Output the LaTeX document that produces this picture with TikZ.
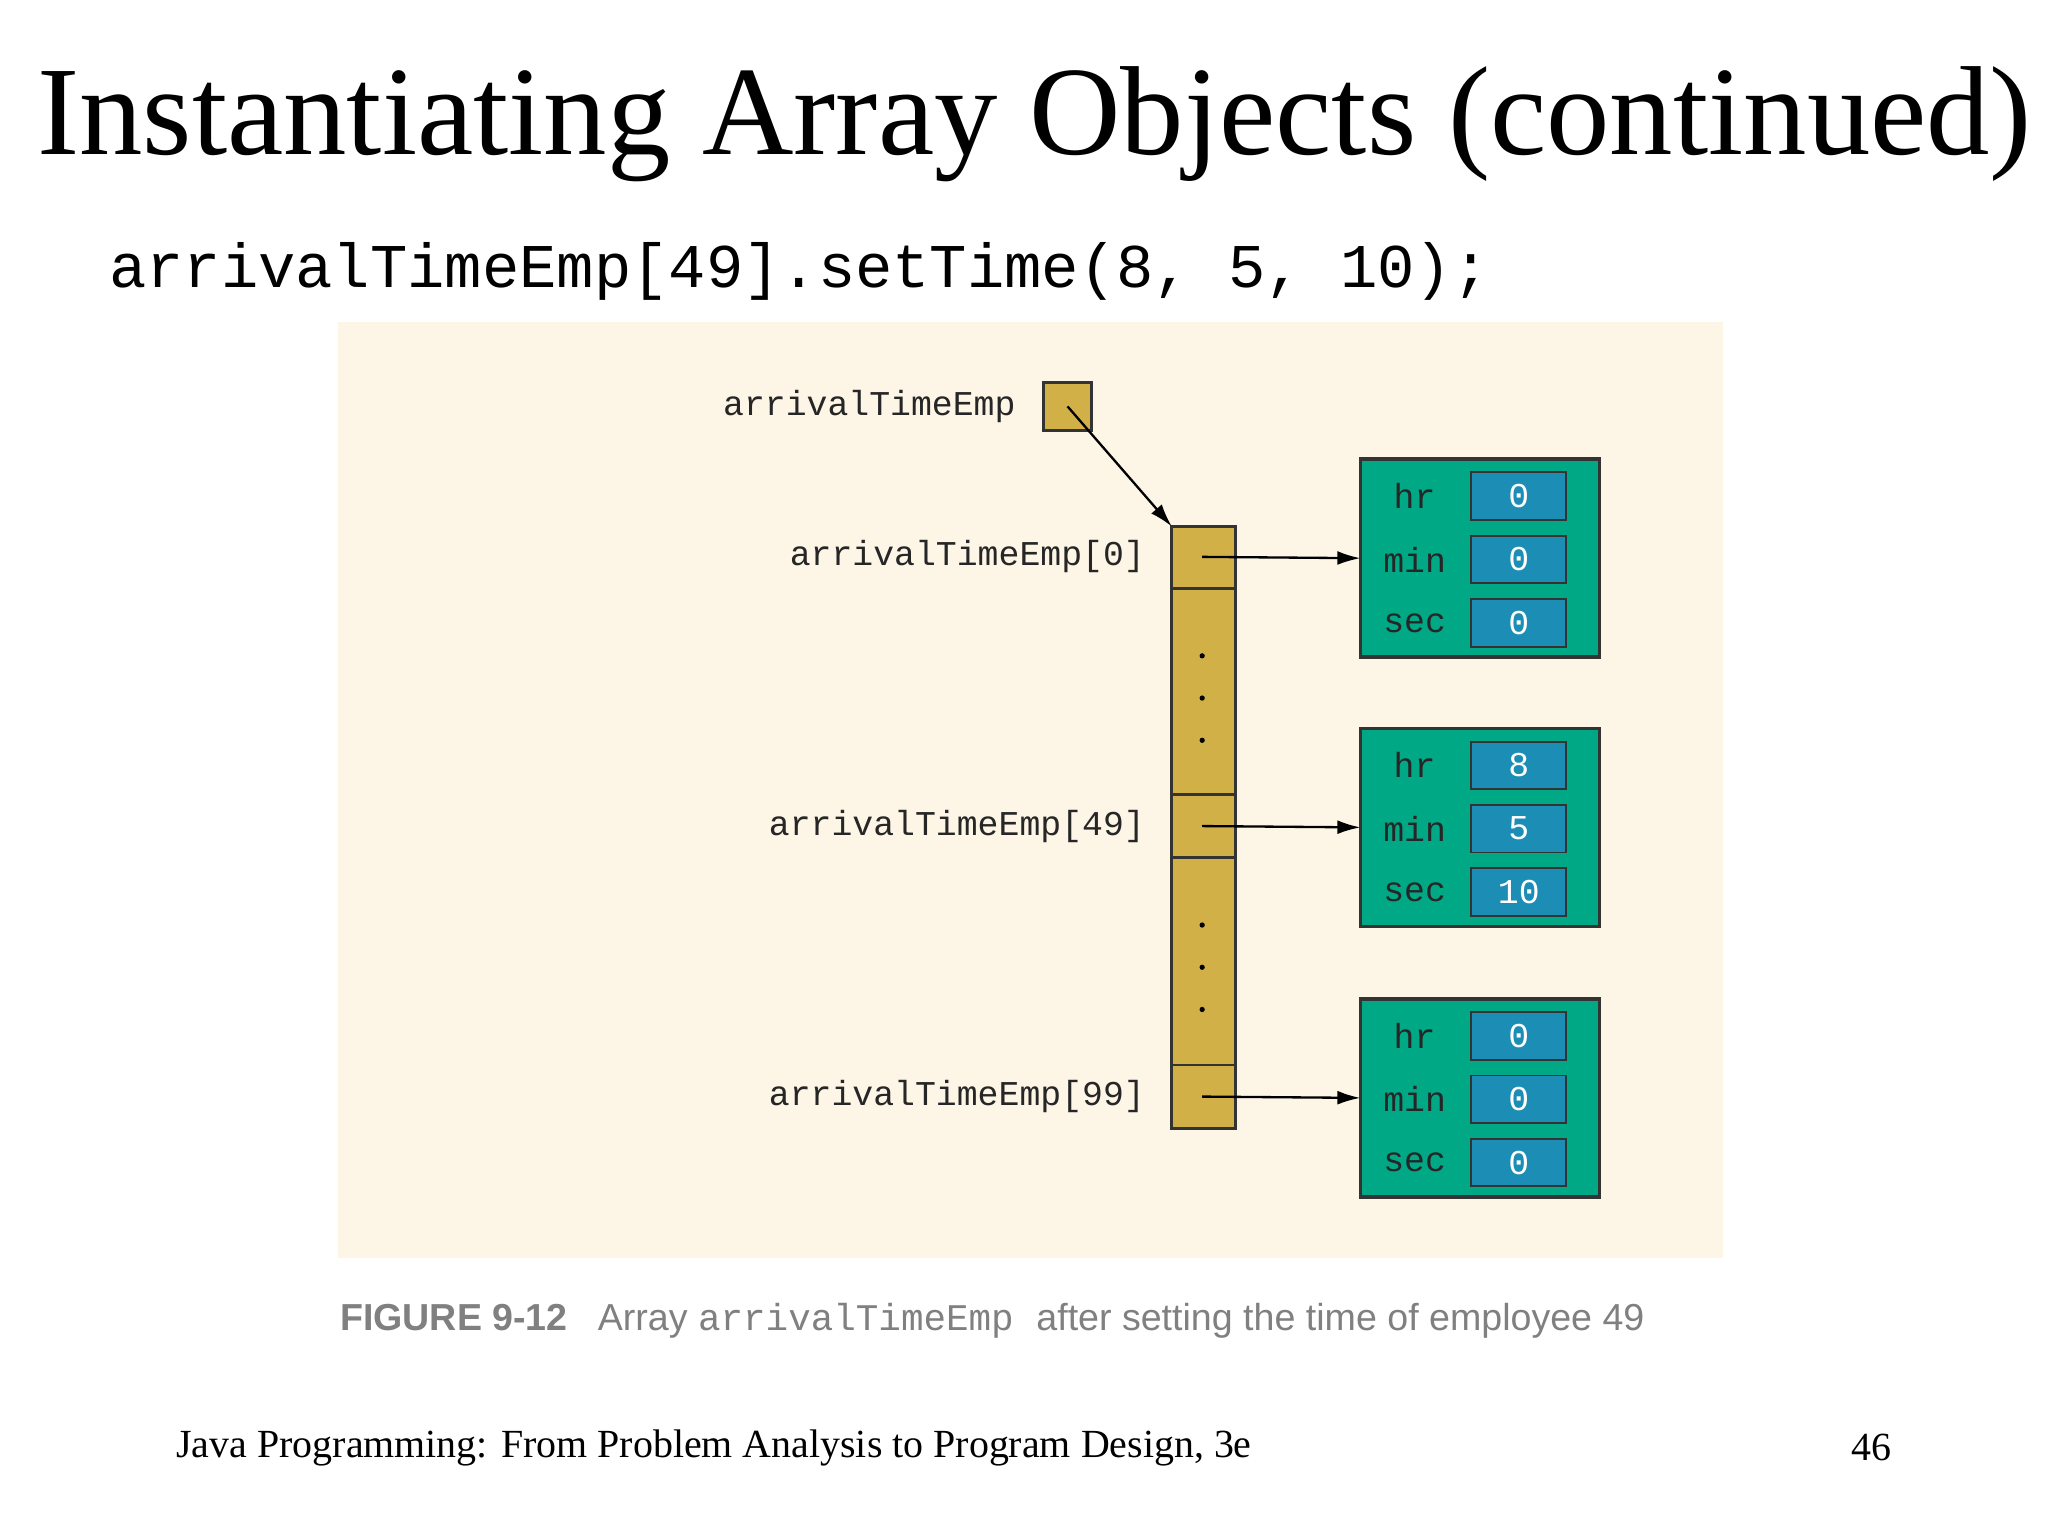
\documentclass[tikz,border=0pt]{standalone}
\usepackage{fontspec}
\setmainfont{Liberation Serif}
\setmonofont{Liberation Mono}
\setsansfont{Liberation Sans}
\usetikzlibrary{arrows.meta}
\definecolor{bg}{HTML}{FDF5E6}
\definecolor{gold}{HTML}{D2B048}
\definecolor{teal}{HTML}{00A886}
\definecolor{blu}{HTML}{1C8EB6}
\definecolor{cap}{HTML}{808080}
\tikzset{
 cell/.style={draw=black!80,fill=gold,line width=0.6pt},
 obj/.style={draw=black!80,fill=teal,line width=0.8pt},
 val/.style={draw=black!80,fill=blu,minimum width=0.72cm,minimum height=0.36cm,inner sep=0pt,font=\ttfamily\fontsize{7.5}{8}\selectfont,text=white},
 fld/.style={font=\ttfamily\fontsize{7.5}{8}\selectfont,text=black!85},
 lab/.style={font=\ttfamily\fontsize{7.5}{8}\selectfont,text=black!85,anchor=east},
 arr/.style={-{Latex[length=5pt,width=3pt]},line width=0.5pt}
}
\begin{document}
\begin{tikzpicture}[x=0.01cm,y=-0.01cm]
\useasboundingbox (0,0) rectangle (1552,1164);
\node[anchor=center,font=\fontsize{27.3}{30}\selectfont] (title) at (784,94) {Instantiating Array Objects (continued)};
\node[anchor=west,inner sep=0pt,font=\ttfamily\fontsize{13.4}{15}\selectfont] (code) at (82,206) {arrivalTimeEmp[49].setTime(8, 5, 10);};
\fill[bg] (256,244) rectangle (1306,953);
% pointer
\node[cell,minimum size=0.36cm,inner sep=0pt] (p) at (809,308) {};
\node[lab] (pl) at (782,308) {arrivalTimeEmp};
% array
\draw[cell] (888,399) rectangle (936,855);
\foreach \y in {446,602,650,807} \draw[black!80,line width=0.6pt] (888,\y)--(936,\y);
\foreach \y in {497,529,561,701,733,765} \fill (911,\y) circle (2);
\coordinate (a0) at (888,399);
\coordinate (c0) at (911,422);
\coordinate (c49) at (911,626);
\coordinate (c99) at (911,831);
\node[lab] at (880,422) {arrivalTimeEmp[0]};
\node[lab] at (880,626) {arrivalTimeEmp[49]};
\node[lab] at (880,831) {arrivalTimeEmp[99]};
\draw[arr] (p.center) -- (a0);
% objects
\foreach \t/\n/\a/\b/\c in {348/o1/0/0/0, 552/o2/8/5/10, 757/o3/0/0/0}{
 \draw[obj] (1031,\t) rectangle (1212,\t+150);
 \coordinate (\n) at (1031,\t+75);
 \node[fld] at (1072,\t+28) {hr};
 \node[fld] at (1072,\t+76) {min};
 \node[fld] at (1072,\t+124) {sec};
 \node[val] at (1151,\t+28) {\a};
 \node[val] at (1151,\t+76) {\b};
 \node[val] at (1151,\t+124) {\c};
}
\draw[arr] (c0) -- (o1);
\draw[arr] (c49) -- (o2);
\draw[arr] (c99) -- (o3);
% caption
\node[anchor=west,inner sep=0pt,text=cap] (cap) at (257,1001) {\sffamily\fontsize{8.1}{9}\selectfont\textbf{FIGURE 9-12}\hspace{0.8em}Array \ttfamily arrivalTimeEmp \sffamily after setting the time of employee 49};
\node[anchor=west,inner sep=0pt,font=\fontsize{8.6}{10}\selectfont] (foot) at (133,1097) {Java Programming: From Problem Analysis to Program Design, 3e};
\node[anchor=east,inner sep=0pt,font=\fontsize{8.6}{10}\selectfont] (num) at (1434,1097) {46};
\end{tikzpicture}
\end{document}
